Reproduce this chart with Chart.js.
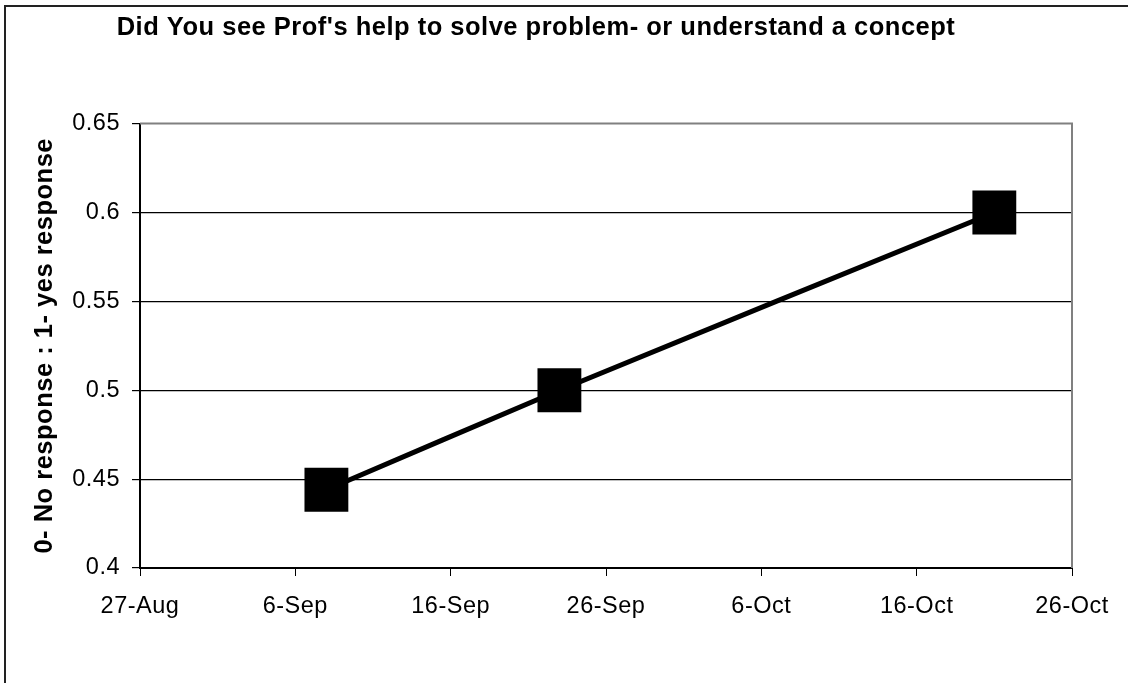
<!DOCTYPE html>
<html>
<head>
<meta charset="utf-8">
<script src="https://cdn.jsdelivr.net/npm/chart.js@4"></script>
<style>
  html, body { margin: 0; padding: 0; background: #fff; }
  #wrap { width: 1128px; height: 683px; position: relative; }
</style>
</head>
<body>
<div id="wrap"><canvas id="chart"></canvas></div>
<script>
// first tick of the date axis, ticks every 10 days
const startDate = "2007-08-27";
const xTickLabels = ["27-Aug", "6-Sep", "16-Sep", "26-Sep", "6-Oct", "16-Oct", "26-Oct"];
const yTicks = [0.4, 0.45, 0.5, 0.55, 0.6, 0.65];

const surveyDates = ["2007-09-08", "2007-09-23", "2007-10-21"];
const responseValues = [0.444, 0.5, 0.6];

const chartTitle = "Did You see Prof's help to solve problem- or understand a concept";
const yTitle = "0- No response : 1- yes response";

const FONT = "'Liberation Sans', Arial, sans-serif";

const dayOffset = (d) => (Date.parse(d) - Date.parse(startDate)) / 86400000;

// the original text is set a touch wider than plain Arial
const spacing = {
  id: "spacing",
  beforeLayout(c) { c.ctx.letterSpacing = "0.5px"; },
  beforeDraw(c) { c.ctx.letterSpacing = "0.5px"; }
};

const frames = {
  id: "frames",
  beforeDatasetsDraw(c) {
    const ctx = c.ctx;
    const a = c.chartArea;
    ctx.save();
    ctx.strokeStyle = "#808080";
    ctx.lineWidth = 2;
    ctx.beginPath();
    ctx.moveTo(a.left, a.top);
    ctx.lineTo(a.right, a.top);
    ctx.lineTo(a.right, a.bottom);
    ctx.stroke();
    ctx.restore();
  },
  afterDraw(c) {
    const ctx = c.ctx;
    ctx.save();
    ctx.strokeStyle = "#222";
    ctx.lineWidth = 2;
    ctx.beginPath();
    ctx.moveTo(5, c.height);
    ctx.lineTo(5, 6);
    ctx.lineTo(c.width, 6);
    ctx.stroke();
    ctx.restore();
  }
};

const ctx = document.getElementById("chart");
let myChart = new Chart(ctx, {
  type: "line",
  plugins: [spacing, frames],
  data: {
    datasets: [
      {
        data: surveyDates.map((d, i) => ({ x: dayOffset(d), y: responseValues[i] })),
        borderColor: "#000",
        borderWidth: 5,
        tension: 0.2,
        pointStyle: "rect",
        pointRadius: 31,
        pointHoverRadius: 31,
        pointBackgroundColor: "#000",
        pointBorderWidth: 0,
        clip: false
      }
    ]
  },
  options: {
    responsive: true,
    maintainAspectRatio: false,
    animation: false,
    devicePixelRatio: 1,
    layout: { padding: { left: 0, right: 56, top: 0, bottom: 0 } },
    plugins: {
      legend: { display: false },
      tooltip: { enabled: false },
      title: {
        display: true,
        text: chartTitle,
        color: "#000",
        font: { family: FONT, size: 25.5, weight: "bold" },
        padding: { top: 13, bottom: 80 }
      }
    },
    scales: {
      x: {
        type: "linear",
        min: 0,
        max: (xTickLabels.length - 1) * 10,
        afterBuildTicks: (s) => { s.ticks = xTickLabels.map((_, i) => ({ value: i * 10 })); },
        afterFit: (s) => { s.height = 115; },
        ticks: {
          callback: (v, i) => xTickLabels[i],
          color: "#000",
          font: { family: FONT, size: 23.5 },
          padding: 16,
          maxRotation: 0,
          autoSkip: false
        },
        grid: { drawOnChartArea: false, drawTicks: true, tickLength: 8, tickColor: "#000" },
        border: { color: "#000", width: 2 }
      },
      y: {
        min: yTicks[0],
        max: yTicks[yTicks.length - 1],
        afterBuildTicks: (s) => { s.ticks = yTicks.map((v) => ({ value: v })); },
        afterFit: (s) => { s.width = 140; },
        ticks: {
          callback: (v) => String(v),
          color: "#000",
          font: { family: FONT, size: 23.5 },
          padding: 12
        },
        grid: {
          color: (c) => (c.tick && c.tick.value === 0.65 ? "rgba(0,0,0,0)" : "#000"),
          lineWidth: 1.2,
          drawTicks: true,
          tickLength: 8,
          tickColor: "#000"
        },
        border: { color: "#000", width: 2 },
        title: {
          display: true,
          text: yTitle,
          color: "#000",
          font: { family: FONT, size: 25.5, weight: "bold" },
          padding: { top: 30, bottom: 0 }
        }
      }
    }
  }
});
</script>
</body>
</html>
